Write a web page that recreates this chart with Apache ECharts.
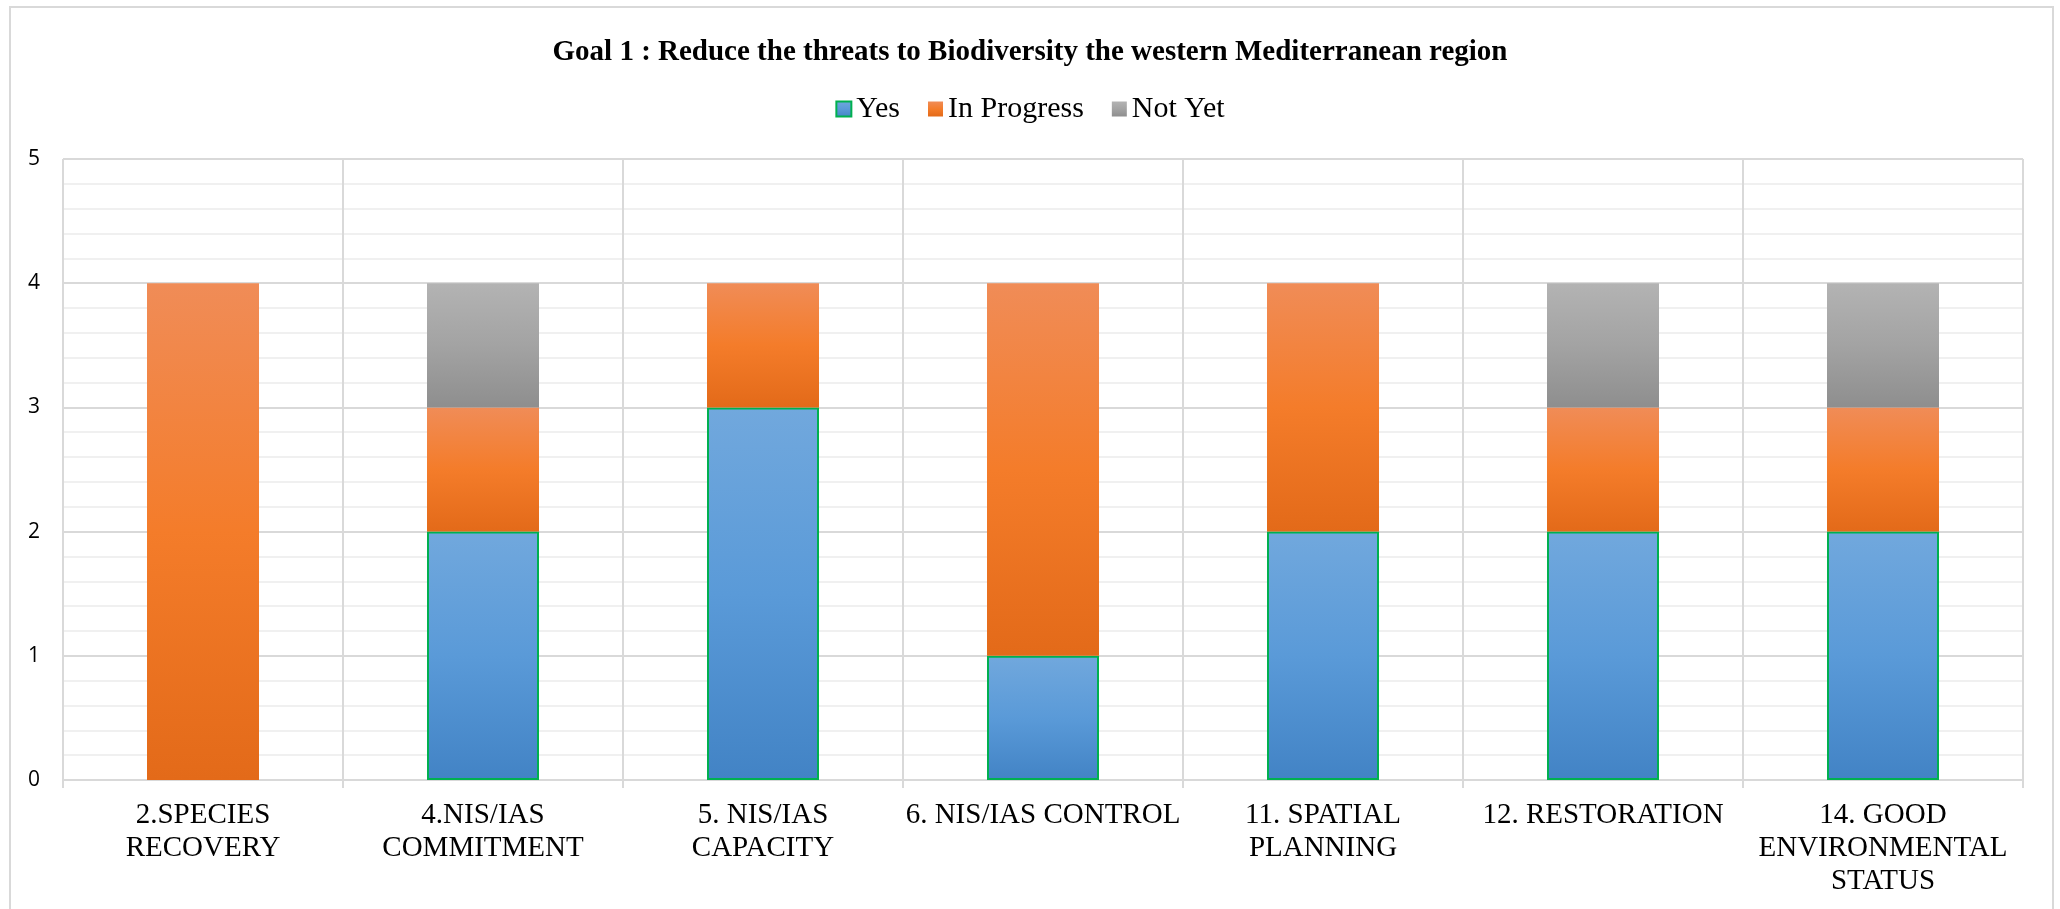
<!DOCTYPE html>
<html>
<head>
<meta charset="utf-8">
<title>Goal 1 : Reduce the threats to Biodiversity</title>
<script src="https://cdn.jsdelivr.net/npm/echarts@6/dist/echarts.min.js"></script>
<style>
  html, body { margin: 0; padding: 0; background: #fff; }
  #chart { width: 2060px; height: 909px; }
</style>
</head>
<body>
<div id="chart"></div>
<script>
const titleText = 'Goal 1 : Reduce the threats to Biodiversity the western Mediterranean region'
const categories = [
  '2.SPECIES\nRECOVERY',
  '4.NIS/IAS\nCOMMITMENT',
  '5. NIS/IAS\nCAPACITY',
  '6. NIS/IAS CONTROL',
  '11. SPATIAL\nPLANNING',
  '12. RESTORATION',
  '14. GOOD\nENVIRONMENTAL\nSTATUS'
]
const seriesNames = ['Yes', 'In Progress', 'Not Yet']
const yesValues = [0, 2, 3, 1, 2, 2, 2]
const inProgressValues = [4, 1, 1, 3, 2, 1, 1]
const notYetValues = [0, 1, 0, 0, 0, 1, 1]
const yTicks = [0, 1, 2, 3, 4, 5]

const serif = '"Liberation Serif", "DejaVu Serif", serif'

// Excel-style vertical gradient, lighter at the top of each segment
const gradient = (top, mid, bottom) => new echarts.graphic.LinearGradient(0, 0, 0, 1, [
  { offset: 0, color: top },
  { offset: 0.5, color: mid },
  { offset: 1, color: bottom }
])

// zero segments are left out so no empty border gets drawn
const asBarData = values => values.map(v => (v === 0 ? '-' : v))

const chart = echarts.init(document.getElementById('chart'))

chart.setOption({
  backgroundColor: '#fff',
  animation: false,
  graphic: [{
    type: 'rect',
    silent: true,
    shape: { x: 10, y: 7, width: 2043, height: 940 },
    style: { fill: 'none', stroke: '#d9d9d9', lineWidth: 2 }
  }],
  title: {
    text: titleText,
    left: 'center',
    top: 33,
    textStyle: {
      fontFamily: serif,
      fontWeight: 'bold',
      fontSize: 29,
      color: '#000'
    }
  },
  legend: {
    data: seriesNames,
    top: 89,
    left: 'center',
    icon: 'rect',
    itemWidth: 15,
    itemHeight: 15,
    itemGap: 28,
    textStyle: {
      fontFamily: serif,
      fontSize: 30,
      color: '#000'
    }
  },
  grid: {
    left: 63,
    right: 37,
    top: 159,
    bottom: 129,
    containLabel: false
  },
  xAxis: {
    type: 'category',
    data: categories,
    axisLine: { lineStyle: { color: '#d9d9d9', width: 2 } },
    axisTick: { show: true, length: 8, lineStyle: { color: '#d9d9d9', width: 2 } },
    splitLine: { show: true, lineStyle: { color: '#d9d9d9', width: 2 } },
    axisLabel: {
      interval: 0,
      margin: 19,
      fontFamily: serif,
      fontSize: 29,
      lineHeight: 33,
      color: '#000'
    }
  },
  yAxis: {
    type: 'value',
    min: yTicks[0],
    max: yTicks[yTicks.length - 1],
    interval: 1,
    axisLine: { show: false },
    axisTick: { show: false },
    axisLabel: {
      margin: 23,
      fontFamily: '"Open Sans", "Liberation Sans", sans-serif',
      fontSize: 21,
      color: '#000'
    },
    splitLine: { lineStyle: { color: '#d9d9d9', width: 2 } },
    minorTick: { show: false, splitNumber: 5 },
    minorSplitLine: { show: true, lineStyle: { color: '#f0f0f0', width: 2 } }
  },
  series: [
    {
      name: seriesNames[0],
      type: 'bar',
      stack: 'total',
      barWidth: '40%',
      data: asBarData(yesValues),
      itemStyle: {
        color: gradient('#71a8dd', '#5a9ad8', '#4283c5'),
        borderColor: '#00b050',
        borderWidth: 2
      }
    },
    {
      name: seriesNames[1],
      type: 'bar',
      stack: 'total',
      barWidth: '40%',
      data: asBarData(inProgressValues),
      itemStyle: {
        color: gradient('#f08c57', '#f47c2a', '#e36a19')
      }
    },
    {
      name: seriesNames[2],
      type: 'bar',
      stack: 'total',
      barWidth: '40%',
      data: asBarData(notYetValues),
      itemStyle: {
        color: gradient('#b3b3b3', '#a3a3a3', '#8e8e8e')
      }
    }
  ]
})

window.addEventListener('resize', () => chart.resize())
</script>
</body>
</html>
